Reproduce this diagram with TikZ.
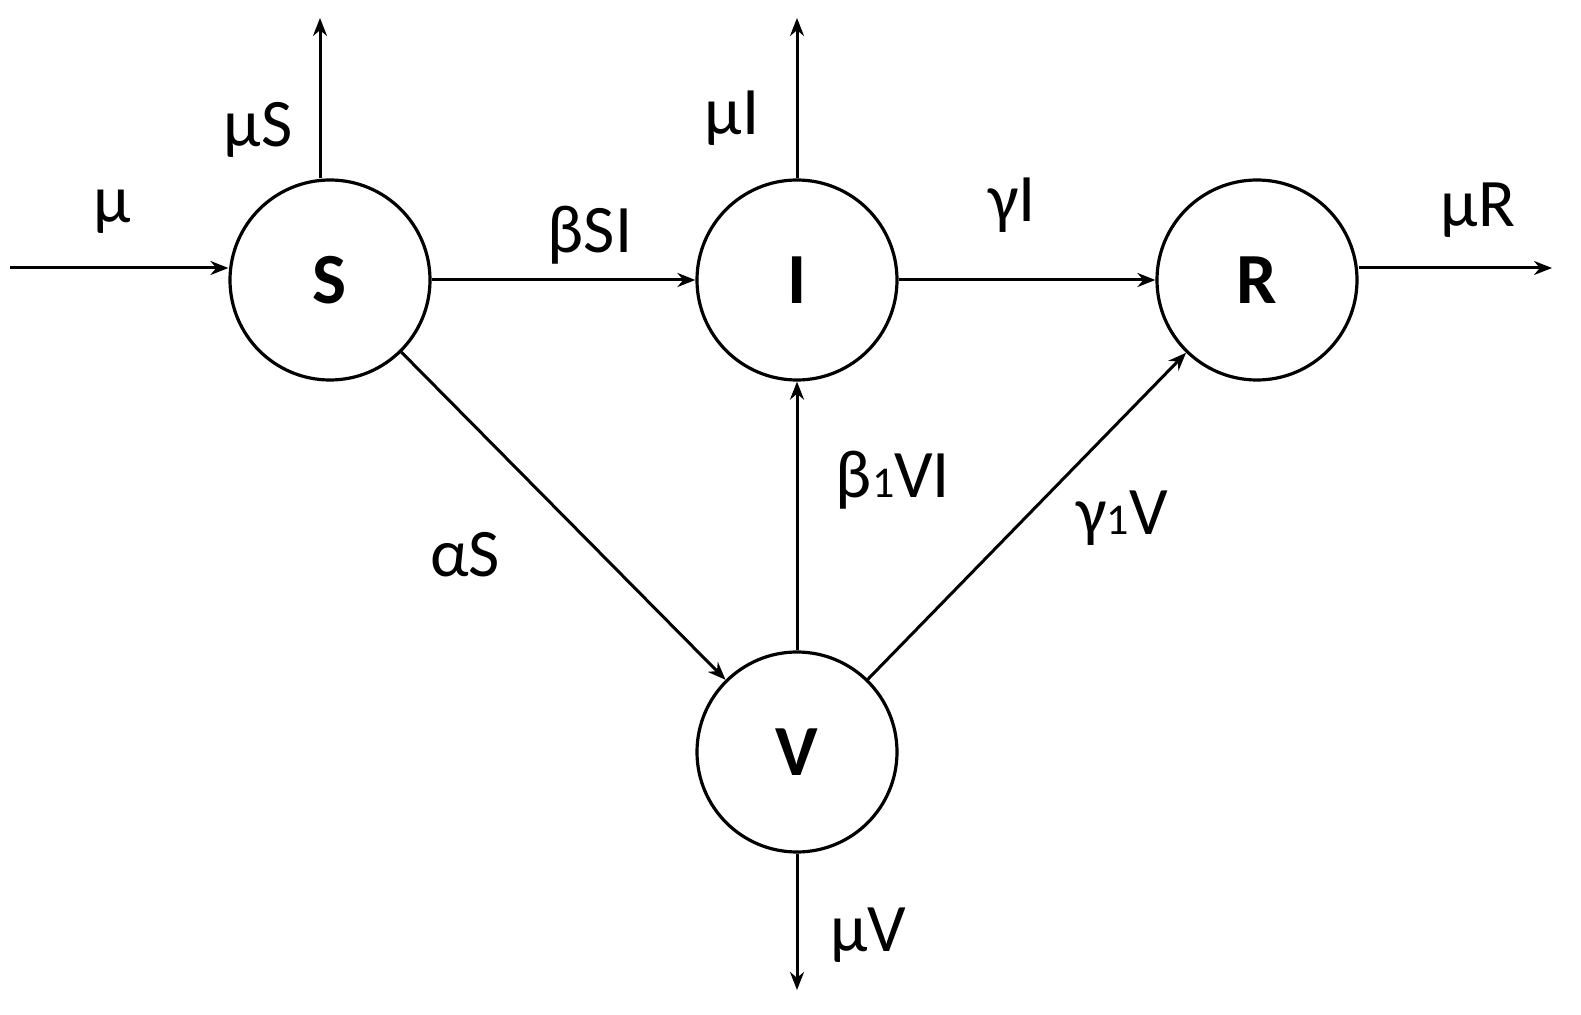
\documentclass[tikz,border=0pt]{standalone}
\usepackage{fontspec}
\setmainfont{Carlito}
\usetikzlibrary{arrows.meta}
\begin{document}
\begin{tikzpicture}[x=0.5pt,y=-0.5pt,
  st/.style={circle,draw,line width=1.6pt,minimum size=100pt,inner sep=0pt,font=\bfseries\fontsize{36}{36}\selectfont},
  ar/.style={line width=1.5pt,-{Stealth[length=9pt,width=7pt]}},
  lb/.style={font=\fontsize{34}{34}\selectfont}]
\useasboundingbox (0,0) rectangle (1581,1015);
\node[st] (S) at (330,280) {S};
\node[st] (I) at (797,280) {I};
\node[st] (R) at (1257,280) {R};
\node[st] (V) at (797,752) {V};
\coordinate (in) at (10,268);
\coordinate (Sout) at (320,18);
\coordinate (Iout) at (797,18);
\coordinate (Rout) at (1552,268);
\coordinate (Vout) at (797,990);
\draw[ar] (in) -- (in -| S.west);
\draw[ar] (S.north -| Sout) -- (Sout);
\draw[ar] (I.north) -- (Iout);
\draw[ar] (R.east |- Rout) -- (Rout);
\draw[ar] (V.south) -- (Vout);
\draw[ar] (S) -- (I);
\draw[ar] (I) -- (R);
\draw[ar] (S) -- (V);
\draw[ar] (V) -- (I);
\draw[ar] (V) -- (R);
\node[lb] (l1) at (112,212) {μ};
\node[lb] (l2) at (258,130) {μS};
\node[lb] (l3) at (732,118) {μI};
\node[lb] (l4) at (590,235) {βSI};
\node[lb] (l5) at (1012,205) {γI};
\node[lb] (l6) at (1478,210) {μR};
\node[lb] (l7) at (465,555) {αS};
\node[lb] (l8) at (893,480) {β{\fontsize{22}{22}\selectfont 1}VI};
\node[lb] (l9) at (1122,518) {γ{\fontsize{22}{22}\selectfont 1}V};
\node[lb] (l10) at (868,935) {μV};
\end{tikzpicture}
\end{document}
